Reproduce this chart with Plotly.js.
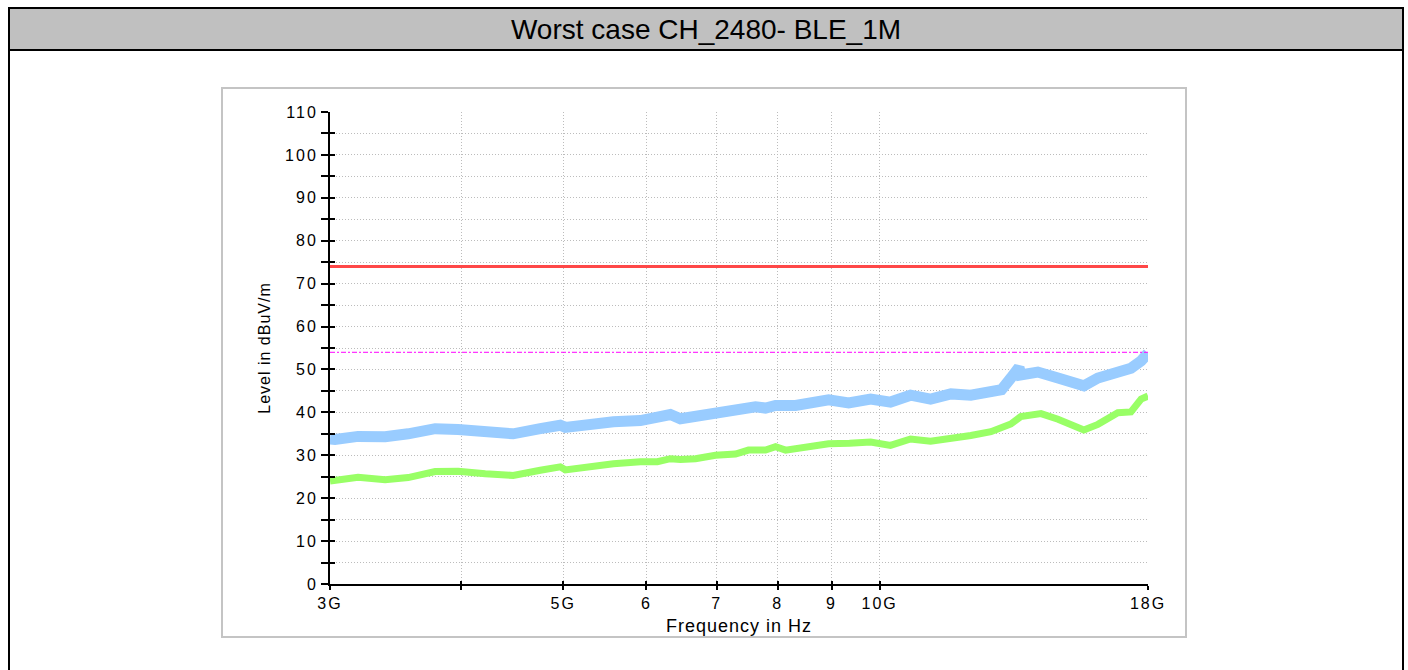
<!DOCTYPE html>
<html>
<head>
<meta charset="utf-8">
<script src="https://cdn.plot.ly/plotly-3.0.1.min.js"></script>
<style>
  html, body { margin:0; padding:0; width:1408px; height:670px; overflow:hidden; background:#fff; }
  #outer { position:absolute; left:8px; top:7px; width:1396px; height:720px; border:2px solid #000; box-sizing:border-box; }
  #header { position:absolute; left:0; top:0; right:0; height:40px; background:#c0c0c0; border-bottom:2px solid #000;
            font-family:'Liberation Sans', Arial, sans-serif; font-size:28px; line-height:42px; text-align:center; color:#000; }
  #frame { position:absolute; left:221px; top:87px; width:966px; height:551px; border:2px solid #c4c4c4; box-sizing:border-box; background:#fff; }
  #chart { position:absolute; left:0; top:0; width:962px; height:547px; overflow:hidden; }
  .xtick text, .ytick text { letter-spacing:2px; }
  .xtitle, .ytitle { letter-spacing:1px; }
</style>
</head>
<body>
<div id="outer"><div id="header">Worst case CH_2480- BLE_1M</div></div>
<div id="frame"><div id="chart"></div></div>
<script>
// ---- data (frequency in GHz, level in dBuV/m) ----
const peakFreq = [3.000, 3.033, 3.190, 3.385, 3.560, 3.777, 3.972, 4.215, 4.403, 4.481, 4.755, 4.968, 5.023, 5.271, 5.581, 5.921, 6.146, 6.323, 6.463, 6.680, 6.979, 7.292, 7.619, 7.788, 7.961, 8.318, 8.691, 8.942, 9.343, 9.805, 10.24, 10.70, 11.18, 11.69, 12.21, 12.76, 13.06, 13.33, 13.57, 13.62, 14.14, 14.78, 15.30, 15.64, 16.13, 16.85, 17.34, 17.73, 18.00];
const peakLevel = [33.8, 33.7, 34.4, 34.3, 35.0, 36.2, 36.0, 35.6, 35.2, 35.0, 36.2, 37.0, 36.5, 37.3, 37.8, 38.1, 39.0, 39.5, 38.5, 39.0, 40.1, 40.5, 41.3, 41.0, 41.6, 41.6, 42.0, 42.9, 42.2, 43.1, 42.4, 44.0, 43.1, 44.3, 44.0, 45.2, 45.3, 48.0, 50.5, 48.7, 49.4, 48.0, 46.6, 46.2, 48.0, 49.6, 50.3, 52.0, 53.8];

const avgFreq = [3.000, 3.033, 3.190, 3.385, 3.560, 3.777, 3.972, 4.215, 4.403, 4.481, 4.755, 4.968, 5.023, 5.271, 5.581, 5.921, 6.146, 6.323, 6.463, 6.680, 6.979, 7.292, 7.503, 7.788, 7.961, 8.138, 8.318, 8.691, 8.942, 9.360, 9.805, 10.24, 10.70, 11.18, 11.69, 12.21, 12.76, 13.33, 13.62, 14.24, 14.78, 15.44, 15.64, 16.13, 16.85, 17.34, 17.73, 18.00];
const avgLevel = [24.0, 24.2, 24.9, 24.3, 24.8, 26.2, 26.3, 25.7, 25.5, 25.3, 26.5, 27.3, 26.6, 27.3, 28.0, 28.5, 28.5, 29.2, 29.0, 29.2, 30.0, 30.3, 31.2, 31.2, 32.0, 31.2, 31.5, 32.3, 32.7, 32.8, 33.1, 32.3, 33.8, 33.3, 33.9, 34.6, 35.5, 37.3, 39.0, 39.7, 38.4, 36.7, 35.9, 37.2, 39.9, 40.1, 43.1, 43.8];

const limitFreq = [3, 18];
const peakLimit = [74, 74];
const avgLimit = [54, 54];

const xTickVals = [3, 4, 5, 6, 7, 8, 9, 10, 18];
const xTickText = ['3G', '', '5G', '6', '7', '8', '9', '10G', '18G'];
const yTickVals = [0, 5, 10, 15, 20, 25, 30, 35, 40, 45, 50, 55, 60, 65, 70, 75, 80, 85, 90, 95, 100, 105, 110];
const yTickText = ['0', '', '10', '', '20', '', '30', '', '40', '', '50', '', '60', '', '70', '', '80', '', '90', '', '100', '', '110'];

const xRange = [Math.log10(3), Math.log10(18)];
const yRange = [0, 110];

const traces = [
  { x: peakFreq, y: peakLevel, type: 'scatter', mode: 'lines', name: 'Peak',
    line: { color: '#99ccff', width: 11 }, hoverinfo: 'skip' },
  { x: avgFreq, y: avgLevel, type: 'scatter', mode: 'lines', name: 'Average',
    line: { color: '#99ff66', width: 7 }, hoverinfo: 'skip' },
  { x: limitFreq, y: peakLimit, type: 'scatter', mode: 'lines', name: 'Peak limit', xaxis: 'x2', yaxis: 'y2',
    line: { color: '#ff4848', width: 3 }, hoverinfo: 'skip' },
  { x: limitFreq, y: avgLimit, type: 'scatter', mode: 'lines', name: 'Average limit', xaxis: 'x2', yaxis: 'y2',
    line: { color: '#ff00ff', width: 1, dash: '5px,2px,2px,2px' }, hoverinfo: 'skip' }
];

const gridCol = '#bcbcbc';
const layout = {
  width: 962, height: 547,
  margin: { l: 107, r: 37, t: 23, b: 52 },
  paper_bgcolor: '#ffffff', plot_bgcolor: '#ffffff',
  showlegend: false,
  font: { family: 'Liberation Sans, Arial, sans-serif', color: '#000', size: 16 },
  xaxis: {
    type: 'log', range: xRange, tickmode: 'array', tickvals: xTickVals, ticktext: xTickText,
    ticks: 'outside', ticklen: 4, tickwidth: 2, tickcolor: '#000',
    showline: true, linecolor: '#000', linewidth: 2,
    showgrid: true, gridcolor: gridCol, griddash: '1px,2px', gridwidth: 1, zeroline: false,
    tickfont: { size: 16, color: '#000' },
    title: { text: 'Frequency in Hz', font: { size: 18, color: '#000' }, standoff: 9 }
  },
  yaxis: {
    range: yRange, tickmode: 'array', tickvals: yTickVals, ticktext: yTickText,
    ticks: 'outside', ticklen: 7, tickwidth: 2, tickcolor: '#000',
    showline: true, linecolor: '#000', linewidth: 2,
    showgrid: true, gridcolor: gridCol, griddash: '1px,2px', gridwidth: 1, zeroline: false,
    tickfont: { size: 16, color: '#000' },
    title: { text: 'Level in dBuV/m', font: { size: 16, color: '#000' }, standoff: 10 }
  },
  xaxis2: {
    type: 'log', range: xRange, overlaying: 'x', anchor: 'y2', tickmode: 'array', tickvals: xTickVals,
    ticks: 'inside', ticklen: 3, tickwidth: 2, tickcolor: '#000',
    showticklabels: false, showgrid: false, showline: false, zeroline: false
  },
  yaxis2: {
    range: yRange, overlaying: 'y', anchor: 'x2', tickmode: 'array', tickvals: yTickVals,
    ticks: 'inside', ticklen: 5, tickwidth: 2, tickcolor: '#000',
    showticklabels: false, showgrid: false, showline: false, zeroline: false
  }
};

Plotly.newPlot('chart', traces, layout, { staticPlot: true, displayModeBar: false });
</script>
</body>
</html>
